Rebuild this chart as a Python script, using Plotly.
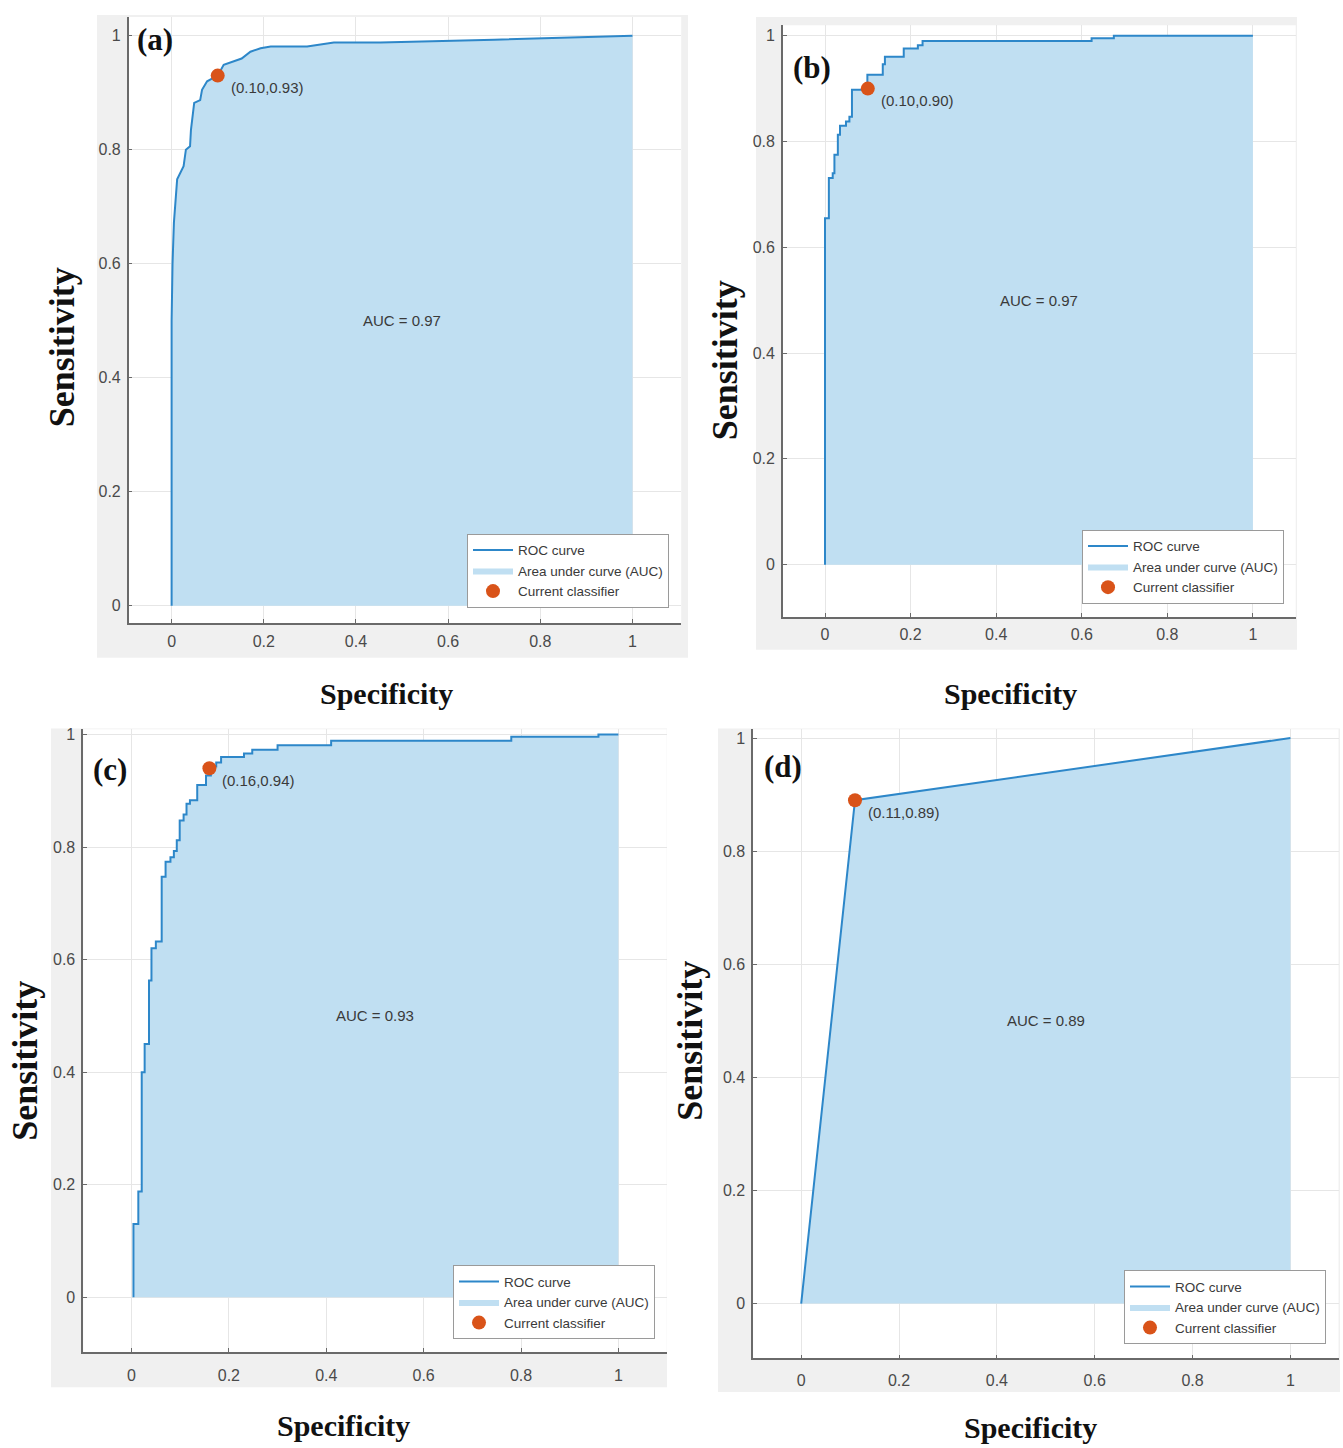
import plotly.graph_objects as go

W, H = 1343, 1448

# ---------------- data ----------------
panel_names = ["(a)", "(b)", "(c)", "(d)"]

roc_a_fpr = [0, 0, 0.002, 0.005, 0.012, 0.026, 0.031, 0.040, 0.042, 0.049, 0.062, 0.066, 0.077,
             0.100, 0.113, 0.152, 0.171, 0.193, 0.215, 0.294, 0.352, 0.453, 0.700, 1.0]
roc_a_tpr = [0, 0.50, 0.60, 0.672, 0.748, 0.771, 0.800, 0.806, 0.835, 0.882, 0.887, 0.905, 0.920,
             0.930, 0.949, 0.960, 0.972, 0.978, 0.981, 0.981, 0.988, 0.988, 0.993, 1.0]

roc_b_fpr = [0, 0, 0.009, 0.018, 0.022, 0.030, 0.035, 0.049, 0.057, 0.063, 0.099, 0.135, 0.140,
             0.184, 0.217, 0.228, 0.623, 0.675, 1.0]
roc_b_tpr = [0, 0.655, 0.731, 0.740, 0.775, 0.813, 0.830, 0.838, 0.847, 0.898, 0.926, 0.946, 0.960,
             0.976, 0.982, 0.990, 0.995, 1.0, 1.0]

roc_c_fpr = [0.004, 0.004, 0.014, 0.021, 0.027, 0.036, 0.041, 0.050, 0.062, 0.070, 0.080, 0.087,
             0.093, 0.099, 0.107, 0.113, 0.120, 0.135, 0.153, 0.163, 0.174, 0.184, 0.231, 0.248,
             0.300, 0.410, 0.780, 0.959, 1.0]
roc_c_tpr = [0, 0.130, 0.188, 0.400, 0.450, 0.563, 0.620, 0.632, 0.747, 0.774, 0.782, 0.793,
             0.812, 0.847, 0.858, 0.877, 0.883, 0.910, 0.927, 0.943, 0.950, 0.960, 0.966, 0.973,
             0.981, 0.989, 0.996, 1.0, 1.0]

roc_d_fpr = [0, 0.11, 1.0]
roc_d_tpr = [0, 0.89, 1.0]

op_fpr = [0.10, 0.10, 0.16, 0.11]
op_tpr = [0.93, 0.90, 0.94, 0.89]
auc_values = [0.97, 0.97, 0.93, 0.89]

tick_vals = [0, 0.2, 0.4, 0.6, 0.8, 1]
tick_text = ["0", "0.2", "0.4", "0.6", "0.8", "1"]

roc_fpr = [roc_a_fpr, roc_b_fpr, roc_c_fpr, roc_d_fpr]
roc_tpr = [roc_a_tpr, roc_b_tpr, roc_c_tpr, roc_d_tpr]
line_shapes = ["linear", "hv", "hv", "linear"]

# ---------------- geometry (pixels) ----------------
plot_boxes = [(128.7, 14, 681.2, 621.3), (782.9, 22.4, 1295.7, 615.4),
              (83.2, 727.8, 666.7, 1351.8), (753.1, 727.8, 1338.5, 1358.3)]
x_ranges = [(-0.0931, 1.1057), (-0.0984, 1.100), (-0.0992, 1.0992), (-0.0983, 1.0983)]
y_ranges = [(-0.0305, 1.0329), (-0.0992, 1.0196), (-0.0972, 1.0092), (-0.097, 1.0154)]
x_standoff = [3, 2, 8, 7]
gray_boxes = [(97, 12, 688, 656), (756, 14, 1297, 648), (51, 727, 667, 1387), (718, 727, 1340, 1392)]
legend_corners = [(669, 606), (1284, 602), (655, 1339), (1326, 1344)]
label_pos = [(155, 37), (812, 65), (110, 768), (783, 765)]
sens_pos = [(62, 345), (725, 358), (25, 1060), (690, 1040)]
spec_pos = [(386, 692), (1010, 692), (343, 1425), (1030, 1427)]


def px(x):
    return x / W


def py(y):
    return 1 - y / H


FILL = "#c0dff2"
LINE = "#2d87c9"
DOT = "#d95319"
TICKFONT = dict(family="Liberation Sans, Arial, sans-serif", size=16, color="#4a4a4a")
TXTFONT = dict(family="Liberation Sans, Arial, sans-serif", size=15, color="#3a3a3a")
SERIF = "Liberation Serif, Times New Roman, serif"

fig = go.Figure()
shapes = []
annotations = []
layout_axes = {}

for i in range(4):
    sfx = "" if i == 0 else str(i + 1)
    xa, ya = "x" + sfx, "y" + sfx
    leg = "legend" if i == 0 else "legend" + str(i + 1)

    fig.add_trace(go.Scatter(
        x=roc_fpr[i], y=roc_tpr[i], mode="lines", line=dict(width=0, shape=line_shapes[i]),
        fill="tozeroy", fillcolor=FILL, name="Area under curve (AUC)",
        xaxis=xa, yaxis=ya, legend=leg, legendrank=2, hoverinfo="skip"))
    fig.add_trace(go.Scatter(
        x=roc_fpr[i], y=roc_tpr[i], mode="lines", line=dict(color=LINE, width=2, shape=line_shapes[i]),
        name="ROC curve", xaxis=xa, yaxis=ya, legend=leg, legendrank=1))
    fig.add_trace(go.Scatter(
        x=[op_fpr[i]], y=[op_tpr[i]], mode="markers", marker=dict(color=DOT, size=14),
        name="Current classifier", xaxis=xa, yaxis=ya, legend=leg, legendrank=3))

    x0, y0, x1, y1 = plot_boxes[i]
    axis_common = dict(
        tickvals=tick_vals, ticktext=tick_text, showgrid=True, gridcolor="#e6e6e6", gridwidth=1,
        zeroline=False, showline=True, linecolor="#6a6a6a", linewidth=1.5, ticks="inside",
        ticklen=4, tickcolor="#6a6a6a", tickfont=TICKFONT, fixedrange=True)
    layout_axes["xaxis" + sfx] = dict(axis_common, domain=[px(x0), px(x1)], range=list(x_ranges[i]),
                                      anchor=ya, ticklabelstandoff=x_standoff[i])
    layout_axes["yaxis" + sfx] = dict(axis_common, domain=[py(y1), py(y0)], range=list(y_ranges[i]),
                                      anchor=xa, ticklabelstandoff=3)

    gx0, gy0, gx1, gy1 = gray_boxes[i]
    shapes.append(dict(type="rect", xref="paper", yref="paper", x0=px(gx0), x1=px(gx1),
                       y0=py(gy1), y1=py(gy0), fillcolor="#f0f0f0", line=dict(width=0), layer="below"))
    shapes.append(dict(type="rect", xref="paper", yref="paper", x0=px(x0), x1=px(x1),
                       y0=py(y1), y1=py(y0), fillcolor="#ffffff", line=dict(width=0), layer="below"))

    lx, ly = legend_corners[i]
    layout_axes[leg] = dict(x=px(lx), y=py(ly), xanchor="right", yanchor="bottom",
                            xref="paper", yref="paper", bgcolor="#ffffff", bordercolor="#9a9a9a",
                            borderwidth=1, font=dict(family="Liberation Sans, Arial, sans-serif",
                                                     size=13.5, color="#3a3a3a"),
                            itemwidth=40, tracegroupgap=0, traceorder="normal")

    annotations.append(dict(x=0.5, y=0.5, xref=xa, yref=ya, text="AUC = %.2f" % auc_values[i],
                            showarrow=False, xanchor="center", yanchor="middle", font=TXTFONT))
    annotations.append(dict(x=op_fpr[i], y=op_tpr[i], xref=xa, yref=ya,
                            text="(%.2f,%.2f)" % (op_fpr[i], op_tpr[i]), showarrow=False,
                            xanchor="left", yanchor="middle", xshift=11, yshift=-12, font=TXTFONT))
    lbx, lby = label_pos[i]
    annotations.append(dict(x=px(lbx), y=py(lby), xref="paper", yref="paper",
                            text="<b>%s</b>" % panel_names[i], showarrow=False,
                            xanchor="center", yanchor="middle",
                            font=dict(family=SERIF, size=31, color="#111111")))
    sx, sy = sens_pos[i]
    annotations.append(dict(x=px(sx), y=py(sy), xref="paper", yref="paper", text="<b>Sensitivity</b>",
                            textangle=-90, showarrow=False, xanchor="center", yanchor="middle",
                            font=dict(family=SERIF, size=36, color="#111111")))
    cx, cy = spec_pos[i]
    annotations.append(dict(x=px(cx), y=py(cy), xref="paper", yref="paper", text="<b>Specificity</b>",
                            showarrow=False, xanchor="center", yanchor="middle",
                            font=dict(family=SERIF, size=30, color="#111111")))

fig.update_layout(
    width=W, height=H, margin=dict(l=0, r=0, t=0, b=0),
    paper_bgcolor="#ffffff", plot_bgcolor="#ffffff",
    shapes=shapes, annotations=annotations, showlegend=True,
    **layout_axes)

fig.write_html("out.html", config={"displayModeBar": False},
               post_script="document.body.style.margin='0px';")
